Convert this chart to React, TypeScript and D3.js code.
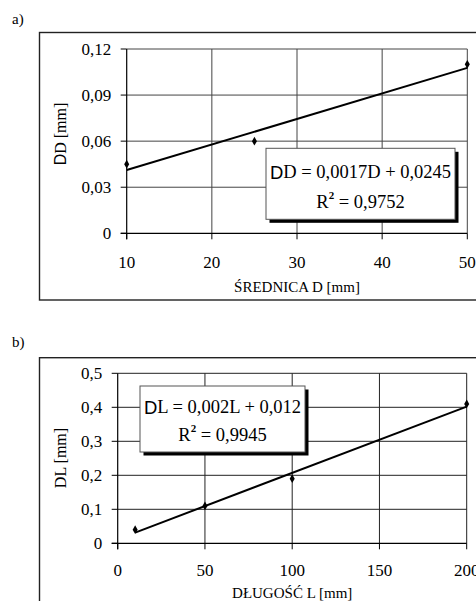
import React from "react";
import * as d3 from "d3";

// ---- Data ----
const diameterD = [10, 25, 50];
const deltaD = [0.045, 0.06, 0.11];
const xTicksA = [10, 20, 30, 40, 50];
const yTicksA = [0, 0.03, 0.06, 0.09, 0.12];
const eqA = "D = 0,0017D + 0,0245";
const r2A = " = 0,9752";

const lengthL = [10, 50, 100, 200];
const deltaL = [0.04, 0.11, 0.19, 0.41];
const xTicksB = [0, 50, 100, 150, 200];
const yTicksB = [0, 0.1, 0.2, 0.3, 0.4, 0.5];
const eqB = "L = 0,002L + 0,012";
const r2B = " = 0,9945";

const SERIF = "'Liberation Serif', 'Times New Roman', serif";
const SANS = "'Liberation Sans', Arial, sans-serif";

const fmt = (v: number) => (v === 0 ? "0" : String(+v.toFixed(3)).replace(".", ","));

function regress(xs: number[], ys: number[]) {
  const mx = d3.mean(xs)!;
  const my = d3.mean(ys)!;
  let sxx = 0, sxy = 0;
  xs.forEach((x, i) => {
    sxx += (x - mx) * (x - mx);
    sxy += (x - mx) * (ys[i] - my);
  });
  const m = sxy / sxx;
  return { m, b: my - m * mx };
}

type ChartProps = {
  label: string;
  labelY: number;
  outer: { x: number; y: number; bottom: number };
  plot: { l: number; t: number; r: number; b: number };
  xs: number[];
  ys: number[];
  xDomain: [number, number];
  yDomain: [number, number];
  xTicks: number[];
  yTicks: number[];
  xLabelDy: number;
  xTitle: string;
  xTitleY: number;
  yTitleMain: string;
  yTitleSansD: boolean;
  yTitleCenter: number;
  legend: { l: number; t: number; r: number; b: number; y1: number; y2: number };
  eq: string;
  r2: string;
  gridColor: string;
};

function Chart(p: ChartProps) {
  const x = d3.scaleLinear().domain(p.xDomain).range([p.plot.l, p.plot.r]);
  const y = d3.scaleLinear().domain(p.yDomain).range([p.plot.b, p.plot.t]);
  const { m, b } = regress(p.xs, p.ys);
  const x0 = d3.min(p.xs)!;
  const x1 = d3.max(p.xs)!;
  const line = d3.line<number>().x((v) => x(v)).y((v) => y(m * v + b));
  const diamond = d3.symbol().type(d3.symbolDiamond).size(22)();
  const lc = (p.legend.l + p.legend.r) / 2;
  return (
    <g>
      <text x={12} y={p.labelY} fontFamily={SERIF} fontSize={15}>{p.label}</text>
      <rect x={p.outer.x} y={p.outer.y} width={480 - p.outer.x} height={p.outer.bottom - p.outer.y}
        fill="none" stroke="#222" strokeWidth={1.4} />
      {/* grid */}
      {p.xTicks.slice(1).map((t) => (
        <line key={"gx" + t} x1={x(t)} x2={x(t)} y1={p.plot.t} y2={p.plot.b} stroke={p.gridColor} strokeWidth={1} />
      ))}
      {p.yTicks.slice(1).map((t) => (
        <line key={"gy" + t} x1={p.plot.l} x2={p.plot.r} y1={y(t)} y2={y(t)} stroke={p.gridColor} strokeWidth={1} />
      ))}
      {/* axes */}
      <line x1={p.plot.l} x2={p.plot.l} y1={p.plot.t} y2={p.plot.b + 6} stroke="#000" strokeWidth={1.2} />
      <line x1={p.plot.l - 6} x2={p.plot.r} y1={p.plot.b} y2={p.plot.b} stroke="#000" strokeWidth={1.2} />
      {p.yTicks.map((t) => (
        <g key={"yt" + t}>
          <line x1={p.plot.l - 6} x2={p.plot.l} y1={y(t)} y2={y(t)} stroke="#000" strokeWidth={1} />
          <text x={p.plot.l - 15.5} y={y(t)} textAnchor="end" dominantBaseline="central"
            fontFamily={SERIF} fontSize={17}>{fmt(t)}</text>
        </g>
      ))}
      {p.xTicks.map((t) => (
        <g key={"xt" + t}>
          <line x1={x(t)} x2={x(t)} y1={p.plot.b} y2={p.plot.b + 6} stroke="#000" strokeWidth={1} />
          <text x={x(t)} y={p.plot.b + p.xLabelDy} textAnchor="middle" dominantBaseline="central"
            fontFamily={SERIF} fontSize={17}>{t}</text>
        </g>
      ))}
      <text x={(p.plot.l + p.plot.r) / 2} y={p.xTitleY} textAnchor="middle" dominantBaseline="central"
        fontFamily={SERIF} fontSize={15}>{p.xTitle}</text>
      <text transform={`translate(60,${p.yTitleCenter}) rotate(-90)`} textAnchor="middle" dominantBaseline="central"
        fontFamily={SERIF} fontSize={16}>
        {p.yTitleSansD ? <tspan fontFamily={SANS}>D</tspan> : null}
        <tspan>{p.yTitleMain}</tspan>
      </text>
      {/* trend line */}
      <path d={line([x0, x1]) || ""} fill="none" stroke="#000" strokeWidth={2} />
      {p.xs.map((v, i) => (
        <path key={"pt" + i} d={diamond || ""} transform={`translate(${x(v)},${y(p.ys[i])})`} fill="#000" />
      ))}
      {/* legend */}
      <rect x={p.legend.l + 3.5} y={p.legend.t + 3.5} width={p.legend.r - p.legend.l} height={p.legend.b - p.legend.t} fill="#000" />
      <rect x={p.legend.l} y={p.legend.t} width={p.legend.r - p.legend.l} height={p.legend.b - p.legend.t}
        fill="#fff" stroke="#555" strokeWidth={1} />
      <text x={lc} y={p.legend.y1} textAnchor="middle" dominantBaseline="central" fontFamily={SERIF} fontSize={18.5}>
        <tspan fontFamily={SANS}>D</tspan>
        <tspan>{p.eq}</tspan>
      </text>
      <text x={lc} y={p.legend.y2} textAnchor="middle" dominantBaseline="central" fontFamily={SERIF} fontSize={18.5}>
        <tspan>R</tspan>
        <tspan fontSize={11} fontWeight="bold" dy={-7}>2</tspan>
        <tspan dy={7}>{p.r2}</tspan>
      </text>
    </g>
  );
}

export default function App() {
  return (
    <svg width={476} height={601} style={{ position: "absolute", left: 0, top: 0, background: "#fff" }}>
      <rect x={0} y={0} width={476} height={601} fill="#fff" />
      <Chart
        label="a)"
        labelY={24}
        outer={{ x: 39.5, y: 32.5, bottom: 300 }}
        plot={{ l: 126.7, t: 49, r: 467.3, b: 233.3 }}
        xs={diameterD}
        ys={deltaD}
        xDomain={[10, 50]}
        yDomain={[0, 0.12]}
        xTicks={xTicksA}
        yTicks={yTicksA}
        xLabelDy={29.5}
        xTitle="ŚREDNICA D [mm]"
        xTitleY={286.7}
        yTitleMain="D [mm]"
        yTitleSansD={true}
        yTitleCenter={134}
        legend={{ l: 266, t: 148.3, r: 455, b: 219.3, y1: 171.7, y2: 201.7 }}
        eq={eqA}
        r2={r2A}
        gridColor="#444"
      />
      <Chart
        label="b)"
        labelY={347}
        outer={{ x: 39.5, y: 357.7, bottom: 640 }}
        plot={{ l: 117.7, t: 373.3, r: 466.7, b: 543.3 }}
        xs={lengthL}
        ys={deltaL}
        xDomain={[0, 200]}
        yDomain={[0, 0.5]}
        xTicks={xTicksB}
        yTicks={yTicksB}
        xLabelDy={27}
        xTitle="DŁUGOŚĆ L [mm]"
        xTitleY={593}
        yTitleMain="DL [mm]"
        yTitleSansD={false}
        yTitleCenter={458}
        legend={{ l: 140, t: 386, r: 305, b: 452, y1: 406.7, y2: 435 }}
        eq={eqB}
        r2={r2B}
        gridColor="#222"
      />
    </svg>
  );
}
